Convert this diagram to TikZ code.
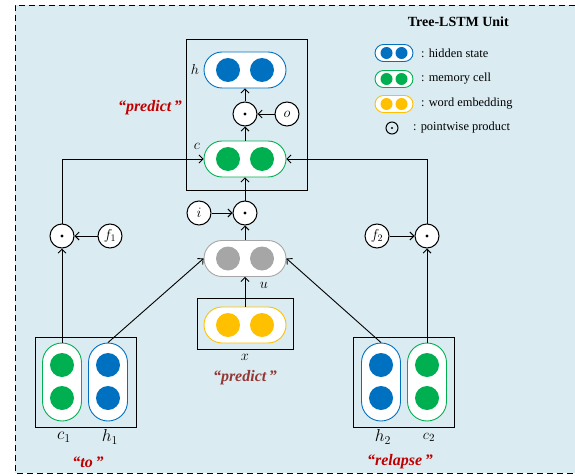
\documentclass[tikz,border=0pt]{standalone}
\usepackage{fontspec}
\setmainfont{Liberation Serif}
\usetikzlibrary{arrows.meta}
\definecolor{bgc}{HTML}{DAECF2}
\definecolor{hblue}{HTML}{0070C0}
\definecolor{mgreen}{HTML}{00B050}
\definecolor{wyel}{HTML}{FFC000}
\definecolor{ugray}{HTML}{A6A6A6}
\definecolor{rred}{HTML}{C00000}
\definecolor{dred}{HTML}{953735}
\begin{document}
\begin{tikzpicture}[x=1pt,y=-1pt,
  hpill/.style={draw=#1,line width=0.9pt,fill=white,minimum width=82pt,minimum height=36pt,rounded corners=18pt,inner sep=0pt},
  vpill/.style={draw=#1,line width=0.9pt,fill=white,minimum width=39pt,minimum height=78pt,rounded corners=19.5pt,inner sep=0pt},
  lpill/.style={draw=#1,line width=0.9pt,fill=white,minimum width=38pt,minimum height=17pt,rounded corners=8.5pt,inner sep=0pt},
  opc/.style={circle,draw,line width=1pt,fill=white,minimum size=24pt,inner sep=0pt,font=\fontsize{14}{16}\selectfont},
  frame/.style={draw,line width=0.9pt},
  arr/.style={line width=0.9pt,-{Straight Barb[length=4pt,width=8pt,line width=0.9pt]}},
  mlab/.style={font=\fontsize{15}{17}\selectfont,inner sep=0pt},
  blab/.style={font=\fontsize{17}{19}\selectfont,inner sep=0pt},
  qlab/.style={font=\fontsize{16}{18}\selectfont\bfseries\itshape,inner sep=0pt},
  legt/.style={font=\fontsize{12.4}{14}\selectfont,anchor=west,inner sep=0pt}
]
\useasboundingbox (0,0) rectangle (575,476);
\fill[bgc] (15,5) rectangle (585,473);
\draw[dashed,line width=0.9pt,dash pattern=on 6pt off 4pt] (585,5) -- (15,5) -- (15,473) -- (585,473);

% frames
\node[frame,minimum width=121pt,minimum height=151pt,inner sep=0pt] (topbox) at (246.5,114.5) {};
\node[frame,minimum width=96pt,minimum height=51pt,inner sep=0pt] (xbox) at (245,323.5) {};
\node[frame,minimum width=101pt,minimum height=90pt,inner sep=0pt] (lbox) at (85.5,382) {};
\node[frame,minimum width=101pt,minimum height=90pt,inner sep=0pt] (rbox) at (403.5,382) {};

% pills
\node[hpill=hblue] (h) at (245,70) {};
\fill[hblue] (228,70) circle (12) (262,70) circle (12);
\node[hpill=mgreen] (c) at (245,159) {};
\fill[mgreen] (228,159) circle (12) (262,159) circle (12);
\node[hpill=ugray] (u) at (245,258.5) {};
\fill[ugray] (228,258.5) circle (12) (262,258.5) circle (12);
\node[hpill=wyel] (x) at (245,325) {};
\fill[wyel] (228,325) circle (12) (262,325) circle (12);

\node[vpill=mgreen] (c1) at (62,382) {};
\fill[mgreen] (62,365) circle (12) (62,398) circle (12);
\node[vpill=hblue] (h1) at (108,382) {};
\fill[hblue] (108,365) circle (12) (108,398) circle (12);
\node[vpill=hblue] (h2) at (381,382) {};
\fill[hblue] (381,365) circle (12) (381,398) circle (12);
\node[vpill=mgreen] (c2) at (427,382) {};
\fill[mgreen] (427,365) circle (12) (427,398) circle (12);

% operators
\node[opc] (d1) at (245,114) {};
\fill (d1) circle (1.6);
\node[opc] (o) at (287,114) {$o$};
\node[opc] (d2) at (245,213) {};
\fill (d2) circle (1.6);
\node[opc] (i) at (199,213) {$i$};
\node[opc] (dl) at (62,236) {};
\fill (dl) circle (1.6);
\node[opc] (f1) at (110,236) {$f_1$};
\node[opc] (dr) at (427,236) {};
\fill (dr) circle (1.6);
\node[opc] (f2) at (377,236) {$f_2$};

% connectors
\draw[arr] (x.north) -- (u.south);
\draw[arr] (u.north) -- (d2.south);
\draw[arr] (i.east) -- (d2.west);
\draw[arr] (d2.north) -- (c.south);
\draw[arr] (c.north) -- (d1.south);
\draw[arr] (o.west) -- (d1.east);
\draw[arr] (d1.north) -- (h.south);
\draw[arr] (c1.north) -- (dl.south);
\draw[arr] (f1.west) -- (dl.east);
\draw[arr] (dl.north) |- (c.west);
\draw[arr] (c2.north) -- (dr.south);
\draw[arr] (f2.east) -- (dr.west);
\draw[arr] (dr.north) |- (c.east);
\draw[arr] (h1.north) -- (u.west);
\draw[arr] (h2.north) -- (u.east);

% labels
\node[mlab] (lh) at (195,70) {$h$};
\node[mlab] (lc) at (197,146) {$c$};
\node[mlab] (lu) at (264,285) {$u$};
\node[mlab] (lx) at (245,357) {$x$};
\node[blab] (lc1) at (64,437) {$c_1$};
\node[blab] (lh1) at (110,437) {$h_1$};
\node[blab] (lh2) at (383,437) {$h_2$};
\node[mlab] (lc2) at (429,437) {$c_2$};

\node[qlab,text=rred] (q1) at (150,108) {“predict\,”};
\node[qlab,text=dred] (q2) at (245,378) {“predict\,”};
\node[qlab,text=rred] (q3) at (88,462) {“to\,”};
\node[qlab,text=rred] (q4) at (400,462) {“relapse\,”};

% legend
\node[font=\fontsize{14}{16}\selectfont\bfseries,anchor=east,inner sep=0pt] (title) at (509,22) {Tree-LSTM Unit};
\node[lpill=hblue] (lg1) at (394,53) {};
\fill[hblue] (386.5,53) circle (6) (401.5,53) circle (6);
\node[lpill=mgreen] (lg2) at (394,79) {};
\fill[mgreen] (386.5,79) circle (6) (401.5,79) circle (6);
\node[lpill=wyel] (lg3) at (394,104) {};
\fill[wyel] (386.5,104) circle (6) (401.5,104) circle (6);
\node[circle,draw,line width=1pt,minimum size=12pt,inner sep=0pt] (lg4) at (392,128) {};
\fill (lg4) circle (1.2);
\node[legt] (t1) at (421,53) {: hidden state};
\node[legt] (t2) at (421,79) {: memory cell};
\node[legt] (t3) at (421,104) {: word embedding};
\node[legt] (t4) at (413,128) {: pointwise product};
\end{tikzpicture}
\end{document}
